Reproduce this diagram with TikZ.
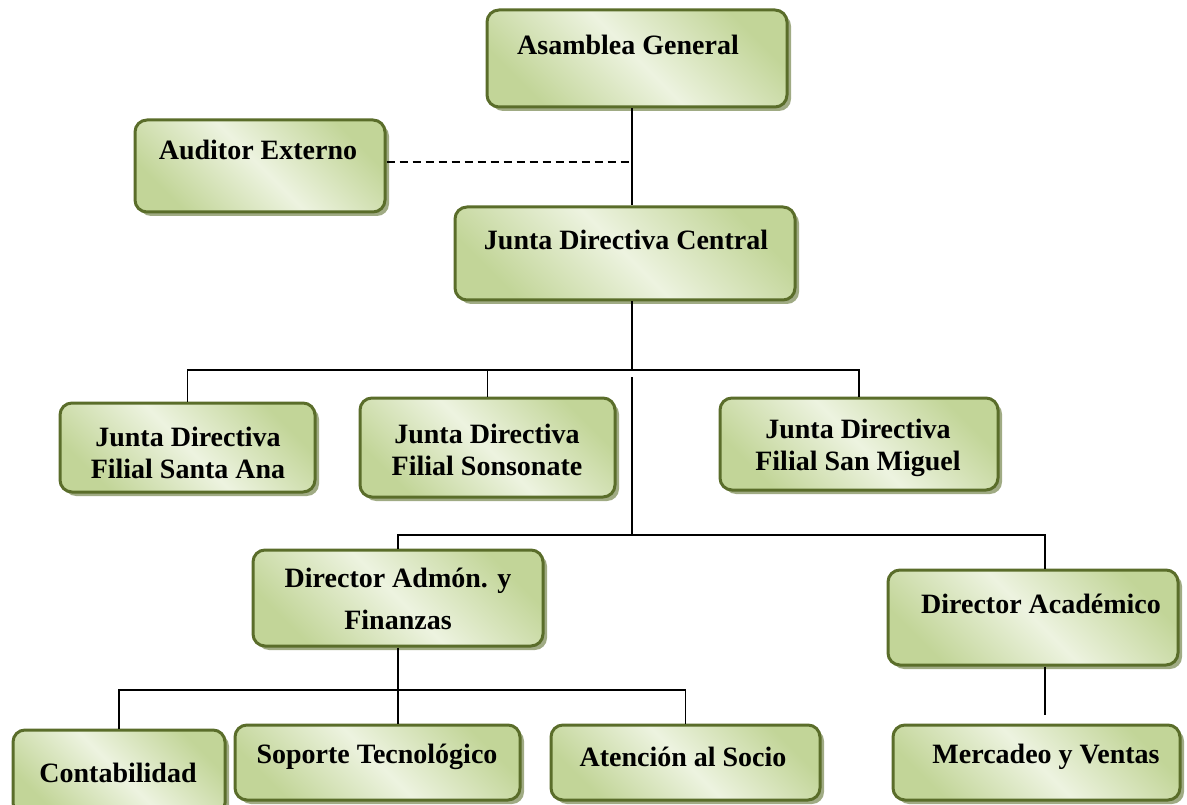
\documentclass[tikz,border=0pt]{standalone}
\usepackage{fontspec}
\setmainfont{Liberation Serif}
\usetikzlibrary{shadows}
\definecolor{boxgreen}{RGB}{194,213,152}
\definecolor{boxlight}{RGB}{237,243,224}
\definecolor{boxborder}{RGB}{90,109,42}
\definecolor{boxshadow}{RGB}{160,171,132}
\begin{document}
\begin{tikzpicture}[x=1pt,y=-1pt,
  orgbox/.style={rectangle, rounded corners=12pt, draw=boxborder, line width=3pt,
    top color=boxgreen, bottom color=boxgreen, middle color=boxlight, shading angle=-45,
    drop shadow={shadow xshift=4pt, shadow yshift=-4pt, fill=boxshadow, opacity=1},
    inner sep=0pt},
  lbl/.style={font=\fontsize{28}{32}\selectfont\bfseries, align=center, inner sep=0pt, text=black},
  conn/.style={draw=black, line width=1.8pt},
  dashline/.style={draw=black, line width=1.8pt, dash pattern=on 8pt off 5pt}]
\useasboundingbox (0,0) rectangle (1187,805);
% boxes
\node[orgbox, minimum width=300pt, minimum height=97pt] (ag) at (637,58.5) {};
\node[orgbox, minimum width=250pt, minimum height=92pt] (ae) at (260,166) {};
\node[orgbox, minimum width=340pt, minimum height=93pt] (jdc) at (625,253.5) {};
\node[orgbox, minimum width=255pt, minimum height=89pt] (sa) at (187.5,447.5) {};
\node[orgbox, minimum width=255pt, minimum height=99pt] (so) at (487.5,447.5) {};
\node[orgbox, minimum width=278pt, minimum height=92pt] (sm) at (859,444) {};
\node[orgbox, minimum width=290pt, minimum height=96pt] (da) at (398,598) {};
\node[orgbox, minimum width=290pt, minimum height=95pt] (dac) at (1033,617.5) {};
\node[orgbox, minimum width=212pt, minimum height=85pt] (co) at (119,772.5) {};
\node[orgbox, minimum width=285pt, minimum height=75pt] (st) at (377.5,762.5) {};
\node[orgbox, minimum width=269pt, minimum height=75pt] (at) at (685.5,762.5) {};
\node[orgbox, minimum width=287pt, minimum height=75pt] (mv) at (1036.5,762.5) {};
% texts
\node[lbl] (agt) at (628,45) {Asamblea General};
\node[lbl] (aet) at (258,150) {Auditor Externo};
\node[lbl] (jdct) at (626,240) {Junta Directiva Central};
\node[lbl] (sat) at (188,453) {Junta Directiva\\Filial Santa Ana};
\node[lbl] (sot) at (487,450) {Junta Directiva\\Filial Sonsonate};
\node[lbl] (smt) at (858,448) {Junta Directiva\\Filial San Miguel};
\node[lbl, font=\fontsize{28}{42}\selectfont\bfseries] (dat) at (398,599) {Director Admón. y\\Finanzas};
\node[lbl] (dact) at (1041,604) {Director Académico};
\node[lbl] (cot) at (118,773) {Contabilidad};
\node[lbl] (stt) at (377,757) {Soporte Tecnológico};
\node[lbl] (att) at (683,757) {Atención al Socio};
\node[lbl] (mvt) at (1046,757) {Mercadeo y Ventas};
% connectors
\coordinate (tr) at (632,0);
\coordinate (dsh) at (632,162);
\coordinate (j1) at (632,370);
\coordinate (j2) at (632,377);
\coordinate (j3) at (632,535);
\coordinate (d1) at (1045,535);
\coordinate (d2) at (1045,715);
\coordinate (j4) at (398,690);
\draw[conn] (ag.south -| tr) -- (jdc.north -| tr);
\draw[dashline] (ae.east |- dsh) -- (dsh);
\draw[conn] (jdc.south -| tr) -- (j1);
\draw[conn] (sa.north) |- (j1) -| (sm.north);
\draw[conn] (so.north) -- (so.north |- j1);
\draw[conn] (j2) -- (j3);
\draw[conn] (da.north) |- (j3) -- (d1) -- (d1 |- dac.north);
\draw[conn] (d1 |- dac.south) -- (d2);
\draw[conn] (da.south) -- (j4);
\draw[conn] (co.north) |- (j4) -| (at.north);
\draw[conn] (j4) -- (j4 |- st.north);
\end{tikzpicture}
\end{document}
